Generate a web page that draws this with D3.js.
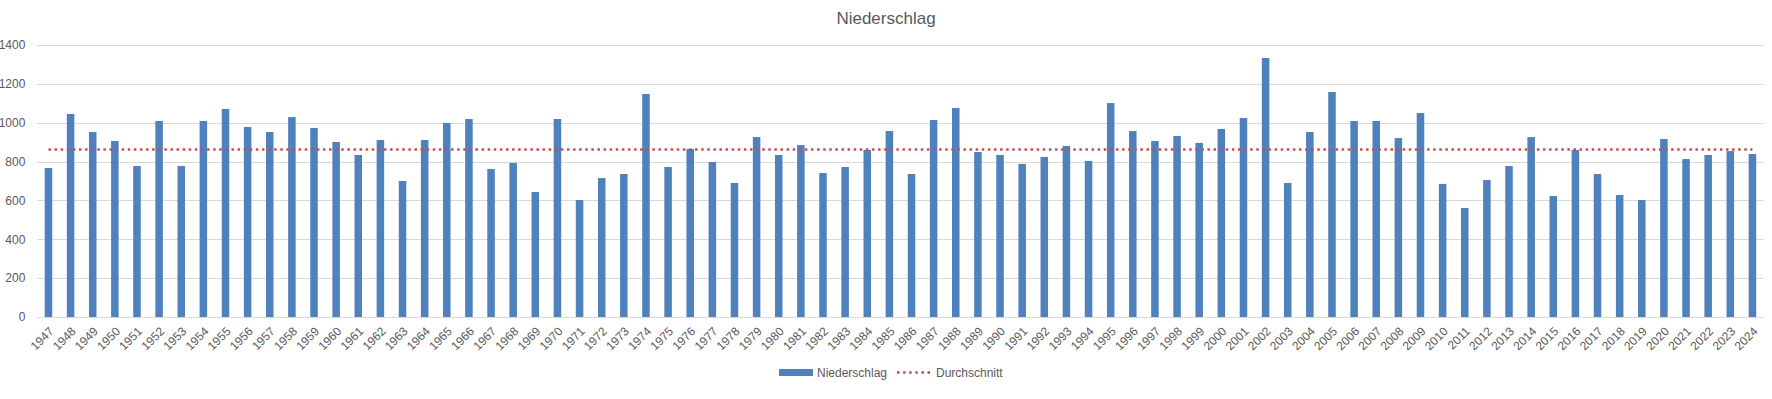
<!DOCTYPE html>
<html>
<head>
<meta charset="utf-8">
<script src="https://cdn.jsdelivr.net/npm/d3@7"></script>
<style>
  body { margin: 0; background: #fff; }
  svg { display: block; font-family: "Liberation Sans", Arial, sans-serif; }
</style>
</head>
<body>
<svg width="1772" height="399"></svg>
<script>
// Jahre (Kategorien)
const years = d3.range(1947, 2025).map(String);

// Niederschlag pro Jahr (mm)
const rain = [
  767, 1045, 952, 906, 777, 1009, 777, 1009, 1071, 978,
  952, 1029, 973, 901, 834, 911, 700, 911, 999, 1019,
  762, 793, 643, 1019, 602, 715, 736, 1148, 772, 865,
  798, 690, 926, 834, 885, 741, 772, 860, 957, 736,
  1014, 1076, 849, 834, 788, 824, 880, 803, 1101, 957,
  906, 932, 896, 968, 1024, 1333, 690, 952, 1158, 1009,
  1009, 921, 1050, 685, 561, 705, 777, 926, 623, 860,
  736, 628, 602, 916, 813, 834, 854, 839
];

// Durchschnitt
const average = 862;

// Achsenbeschriftung Y
const yTicks = [0, 200, 400, 600, 800, 1000, 1200, 1400];

const svg = d3.select("svg");

const area = { left: 37.4, right: 1763.5, top: 45, bottom: 317 };

const scX = d3.scaleBand()
    .domain(years)
    .range([area.left, area.right])
    .paddingInner(0.66)
    .paddingOuter(0.33);

const scY = d3.scaleLinear()
    .domain([0, 1400])
    .range([area.bottom, area.top]);

// Gitterlinien
svg.append("g")
    .selectAll("line")
    .data(yTicks)
    .enter()
    .append("line")
    .attr("x1", area.left)
    .attr("x2", area.right)
    .attr("y1", d => Math.round(scY(d)) + 0.5)
    .attr("y2", d => Math.round(scY(d)) + 0.5)
    .style("stroke", "#d9d9d9")
    .style("stroke-width", 1);

// Y-Achse (nur Beschriftung, ohne Tausendertrenner)
const axisY = d3.axisLeft(scY)
    .tickValues(yTicks)
    .tickFormat(d3.format("d"))
    .tickSize(0)
    .tickPadding(12);
svg.append("g")
    .attr("transform", `translate(${area.left}, 0)`)
    .call(axisY)
    .call(g => g.select(".domain").remove())
    .selectAll("text")
    .style("font-size", "12px")
    .style("fill", "#595959")
    .style("font-family", "'Liberation Sans', Arial, sans-serif");

// Balken
svg.append("g")
    .selectAll("rect")
    .data(years)
    .enter()
    .append("rect")
    .attr("x", d => scX(d))
    .attr("y", (d, i) => scY(rain[i]))
    .attr("width", scX.bandwidth())
    .attr("height", (d, i) => area.bottom - scY(rain[i]))
    .style("fill", "#4f81bd");

// X-Achse - Beschriftung schräg
const axisX = d3.axisBottom(scX).tickSize(0).tickPadding(0);
svg.append("g")
    .attr("transform", `translate(0, ${area.bottom})`)
    .call(axisX)
    .call(g => g.select(".domain").remove())
    .selectAll("text")
    .style("font-size", "12px")
    .style("fill", "#595959")
    .style("font-family", "'Liberation Sans', Arial, sans-serif")
    .style("text-anchor", "end")
    .attr("dy", "0")
    .attr("transform", "translate(6, 15) rotate(-45)");

// Durchschnittslinie (gepunktet)
const line = d3.line()
    .x(d => scX(d) + scX.bandwidth() / 2)
    .y(() => scY(average));

svg.append("path")
    .datum(years)
    .attr("d", line)
    .style("fill", "none")
    .style("stroke", "#c0504d")
    .style("stroke-width", 2.5)
    .style("stroke-dasharray", "2.5 3.6");

// Titel
svg.append("text")
    .attr("x", 886)
    .attr("y", 24)
    .attr("text-anchor", "middle")
    .style("font-size", "17px")
    .style("fill", "#595959")
    .text("Niederschlag");

// Legende
const legend = svg.append("g");
legend.append("rect")
    .attr("x", 779)
    .attr("y", 369)
    .attr("width", 34)
    .attr("height", 7)
    .style("fill", "#4f81bd");
legend.append("text")
    .attr("x", 817)
    .attr("y", 377)
    .style("font-size", "12px")
    .style("fill", "#595959")
    .text("Niederschlag");
legend.append("line")
    .attr("x1", 897)
    .attr("x2", 931)
    .attr("y1", 372.5)
    .attr("y2", 372.5)
    .style("stroke", "#c0504d")
    .style("stroke-width", 2.5)
    .style("stroke-dasharray", "2.5 3.6");
legend.append("text")
    .attr("x", 936)
    .attr("y", 377)
    .style("font-size", "12px")
    .style("fill", "#595959")
    .text("Durchschnitt");
</script>
</body>
</html>
